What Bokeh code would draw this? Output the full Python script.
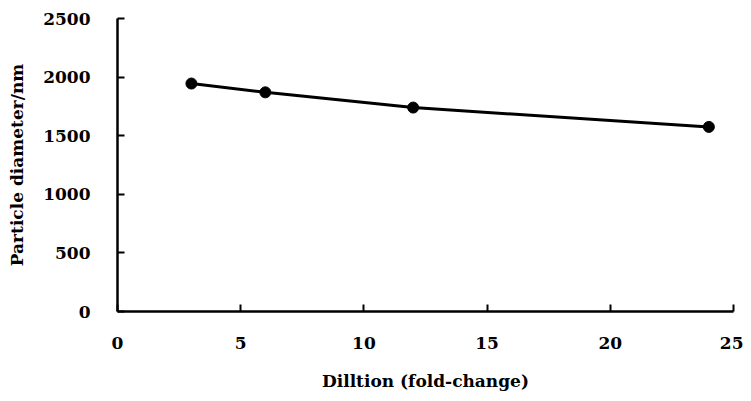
from bokeh.plotting import figure
from bokeh.models import Range1d, FixedTicker
from bokeh.embed import file_html
from bokeh.resources import INLINE

dilution = [3, 6, 12, 24]
diameter = [1945, 1870, 1740, 1575]
x_ticks = [0, 5, 10, 15, 20, 25]
y_ticks = [0, 500, 1000, 1500, 2000, 2500]

FONT = "DejaVu Serif"

p = figure(width=743, height=393, output_backend="svg", toolbar_location=None,
           x_range=Range1d(0, 25), y_range=Range1d(0, 2500),
           min_border_left=117, min_border_right=10, min_border_top=18, min_border_bottom=81)
p.outline_line_color = None
p.grid.visible = False

p.line(dilution, diameter, line_color="black", line_width=3)
p.scatter(dilution, diameter, size=11, fill_color="black", line_color="black")

for ax in (p.xaxis[0], p.yaxis[0]):
    ax.axis_line_width = 2.5
    ax.axis_line_color = "black"
    ax.major_tick_line_width = 2
    ax.major_tick_line_color = "black"
    ax.major_tick_in = 7
    ax.major_tick_out = 0
    ax.minor_tick_line_color = None
    ax.major_label_text_font = FONT
    ax.major_label_text_font_style = "bold"
    ax.major_label_text_font_size = "17px"
    ax.major_label_text_color = "black"
    ax.axis_label_text_font = FONT
    ax.axis_label_text_font_style = "bold"
    ax.axis_label_text_font_size = "17px"
    ax.axis_label_text_color = "black"

p.xaxis[0].ticker = FixedTicker(ticks=x_ticks)
p.yaxis[0].ticker = FixedTicker(ticks=y_ticks)
p.xaxis[0].axis_label = "Dilltion (fold-change)"
p.yaxis[0].axis_label = "Particle diameter/nm"
p.xaxis[0].major_label_standoff = 25
p.yaxis[0].major_label_standoff = 27
p.xaxis[0].axis_label_standoff = 19
p.yaxis[0].axis_label_standoff = 13

open("out.html", "w").write(file_html(p, INLINE))
